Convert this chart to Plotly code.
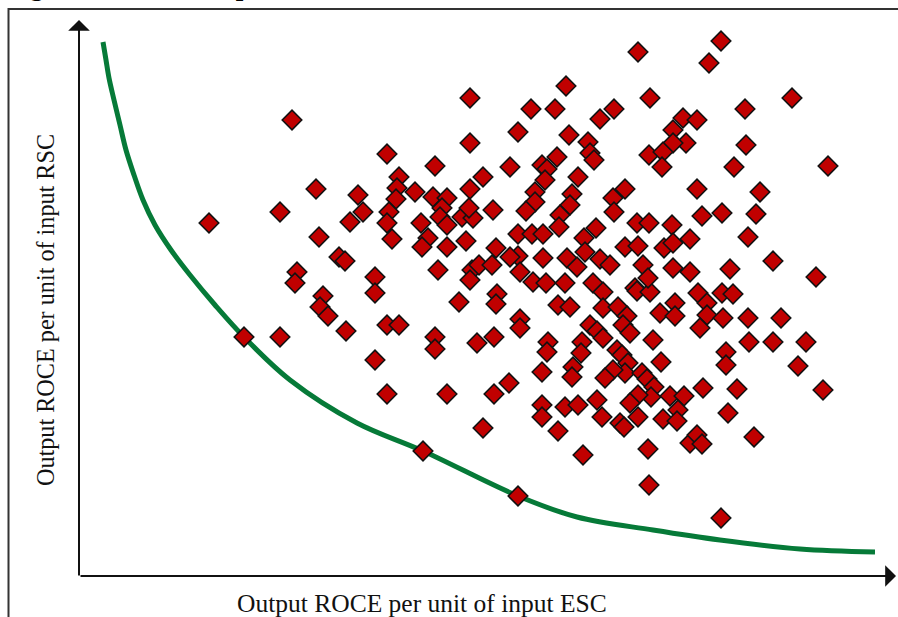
import plotly.graph_objects as go

# ---- data (arbitrary output units: x = ROCE per unit ESC, y = ROCE per unit RSC)
units_x = [641, 558, 629, 486, 390, 570, 712, 451, 475, 534, 665, 212, 520, 603, 617, 438, 489, 593, 606, 593,
           508, 510, 514, 569, 583, 582, 666, 654, 748, 477, 462, 467, 465, 498, 430, 455, 455, 446, 492, 490,
           480, 479, 545, 533, 534, 617, 680, 622, 642, 676, 438, 452, 463, 516, 504, 505, 557, 569, 592, 610,
           668, 545, 558, 584, 593, 438, 463, 487, 497, 520, 530, 563, 593, 610, 650, 693, 736, 440, 390, 307,
           355, 319, 403, 236, 278, 317, 335, 316, 353, 367, 362, 390, 200, 283, 309, 307, 270, 129, 341, 360,
           382, 393, 389, 413, 367, 239, 312, 348, 342, 367, 386, 416, 430, 259, 265, 217, 295, 358, 392, 399,
           412, 215, 295, 390, 243, 240, 248, 266, 379, 417, 416, 440, 440, 307, 319, 355, 355, 397, 414, 164,
           200, 295, 307, 367, 414, 429, 403, 343, 438, 453, 466, 485, 513, 523, 555, 557, 570, 568, 618, 627,
           642, 653, 478, 490, 523, 538, 547, 580, 595, 595, 627, 643, 668, 701, 620, 510, 517, 523, 543, 550,
           573, 669, 693, 726, 468, 467, 502, 501, 493, 492, 462, 537, 542, 548, 545, 533, 525, 581, 646, 646,
           718, 562, 567, 574, 571, 558, 550, 558, 540, 544, 623, 657, 743, 590, 604, 598, 583, 597, 648, 462,
           462, 485, 498, 517, 522, 478, 610, 617, 622, 674, 568, 503, 569, 641]
units_y = [535, 524, 513, 490, 478, 478, 478, 467, 467, 467, 467, 456, 457, 458, 456, 444, 441, 446, 433, 433,
           434, 423, 416, 421, 424, 409, 431, 409, 410, 419, 411, 407, 396, 399, 409, 384, 374, 365, 382, 371,
           361, 349, 387, 378, 364, 387, 384, 360, 363, 362, 342, 342, 342, 348, 338, 324, 353, 353, 351, 337,
           339, 329, 330, 328, 333, 320, 318, 318, 309, 317, 311, 311, 308, 304, 307, 315, 299, 304, 433, 422,
           410, 399, 399, 387, 381, 388, 384, 377, 379, 378, 368, 387, 364, 364, 364, 353, 354, 353, 353, 359,
           359, 358, 368, 366, 351, 339, 337, 338, 329, 329, 335, 328, 319, 319, 315, 304, 299, 306, 306, 311,
           311, 293, 283, 296, 280, 269, 260, 245, 274, 282, 272, 257, 248, 251, 251, 239, 227, 233, 239, 239,
           239, 216, 182, 182, 182, 193, 148, 125, 80, 294, 293, 293, 293, 284, 288, 285, 284, 298, 283, 273,
           283, 282, 271, 269, 268, 269, 260, 263, 273, 260, 261, 258, 258, 258, 248, 251, 245, 238, 251, 243,
           236, 234, 234, 234, 234, 224, 234, 223, 209, 199, 204, 226, 221, 213, 203, 206, 198, 214, 224, 211,
           210, 203, 197, 189, 179, 181, 173, 159, 153, 149, 188, 187, 186, 180, 180, 166, 157, 155, 163, 171,
           159, 169, 171, 176, 159, 145, 133, 141, 132, 139, 127, 121, 91, 58]

frontier_x = [23, 26, 29, 34, 40, 46, 54, 63, 75, 91, 110, 135, 164, 210, 277, 343, 438, 497, 573, 640, 720, 795]
frontier_y = [534, 516, 498, 476, 451, 426, 401, 376, 351, 326, 301, 271, 239, 196, 153, 125, 80, 59, 46, 36, 27, 24]

x_label = "Output ROCE per unit of input ESC"
y_label = "Output ROCE per unit of input RSC"
title_text = "Figure 3: DEA Comparison"

# ---- geometry (page pixels; body margin is removed by a tiny post script)
W, H = 898, 617
L, R, T, B = 80, 8, 20, 41
PW, PH = W - L - R, H - T - B
XR = [0, PW]
YR = [0, PH]


def px(page_x):
    return (page_x - L) / PW


def py(page_y):
    return (H - B - page_y) / PH


FONT = "Liberation Serif, Times New Roman, serif"

fig = go.Figure()
fig.add_trace(go.Scatter(
    x=frontier_x, y=frontier_y, mode="lines", line=dict(color="#067a38", width=5, shape="spline", smoothing=1.0),
    hoverinfo="skip", showlegend=False, cliponaxis=False))
fig.add_trace(go.Scatter(
    x=units_x, y=units_y, mode="markers",
    marker=dict(symbol="diamond", size=15, color="#c00000", line=dict(color="#111111", width=1.6)),
    showlegend=False, cliponaxis=False))

shapes = [
    dict(type="path", xref="paper", yref="paper",
         path=f"M {px(8.5)} {py(H + 20)} L {px(8.5)} {py(9)} L {px(W + 20)} {py(9)}",
         line=dict(color="#333333", width=2)),
]

arrow = dict(text="", showarrow=True, arrowhead=1, arrowsize=1.8, arrowwidth=2, arrowcolor="#111111",
             xref="paper", yref="paper", axref="pixel", ayref="pixel")
annotations = [
    # axes with arrows (tip position in page pixels, tail given as pixel offset)
    dict(arrow, x=px(896), y=py(576), ax=-(896 - 79), ay=0),
    dict(arrow, x=px(79), y=py(20), ax=0, ay=(577 - 20)),
    dict(x=px(422), y=py(603), xref="paper", yref="paper", text=x_label, showarrow=False,
         font=dict(family=FONT, size=25.5, color="#111111"), xanchor="center", yanchor="middle"),
    dict(x=px(45), y=py(310), xref="paper", yref="paper", text=y_label, showarrow=False, textangle=-90,
         font=dict(family=FONT, size=24.2, color="#111111"), xanchor="center", yanchor="middle"),
    dict(x=px(4), y=py(-14), xref="paper", yref="paper", text=f"<b>{title_text}</b>", showarrow=False,
         font=dict(family=FONT, size=27, color="#000000"), xanchor="left", yanchor="middle"),
]

fig.update_layout(
    width=W, height=H, margin=dict(l=L, r=R, t=T, b=B),
    paper_bgcolor="white", plot_bgcolor="rgba(0,0,0,0)",
    xaxis=dict(range=XR, visible=False, fixedrange=True),
    yaxis=dict(range=YR, visible=False, fixedrange=True),
    shapes=shapes, annotations=annotations, showlegend=False,
)

fig.write_html("out.html", config={"displayModeBar": False, "staticPlot": True},
               post_script="document.body.style.margin='0';document.body.style.overflow='hidden';")
